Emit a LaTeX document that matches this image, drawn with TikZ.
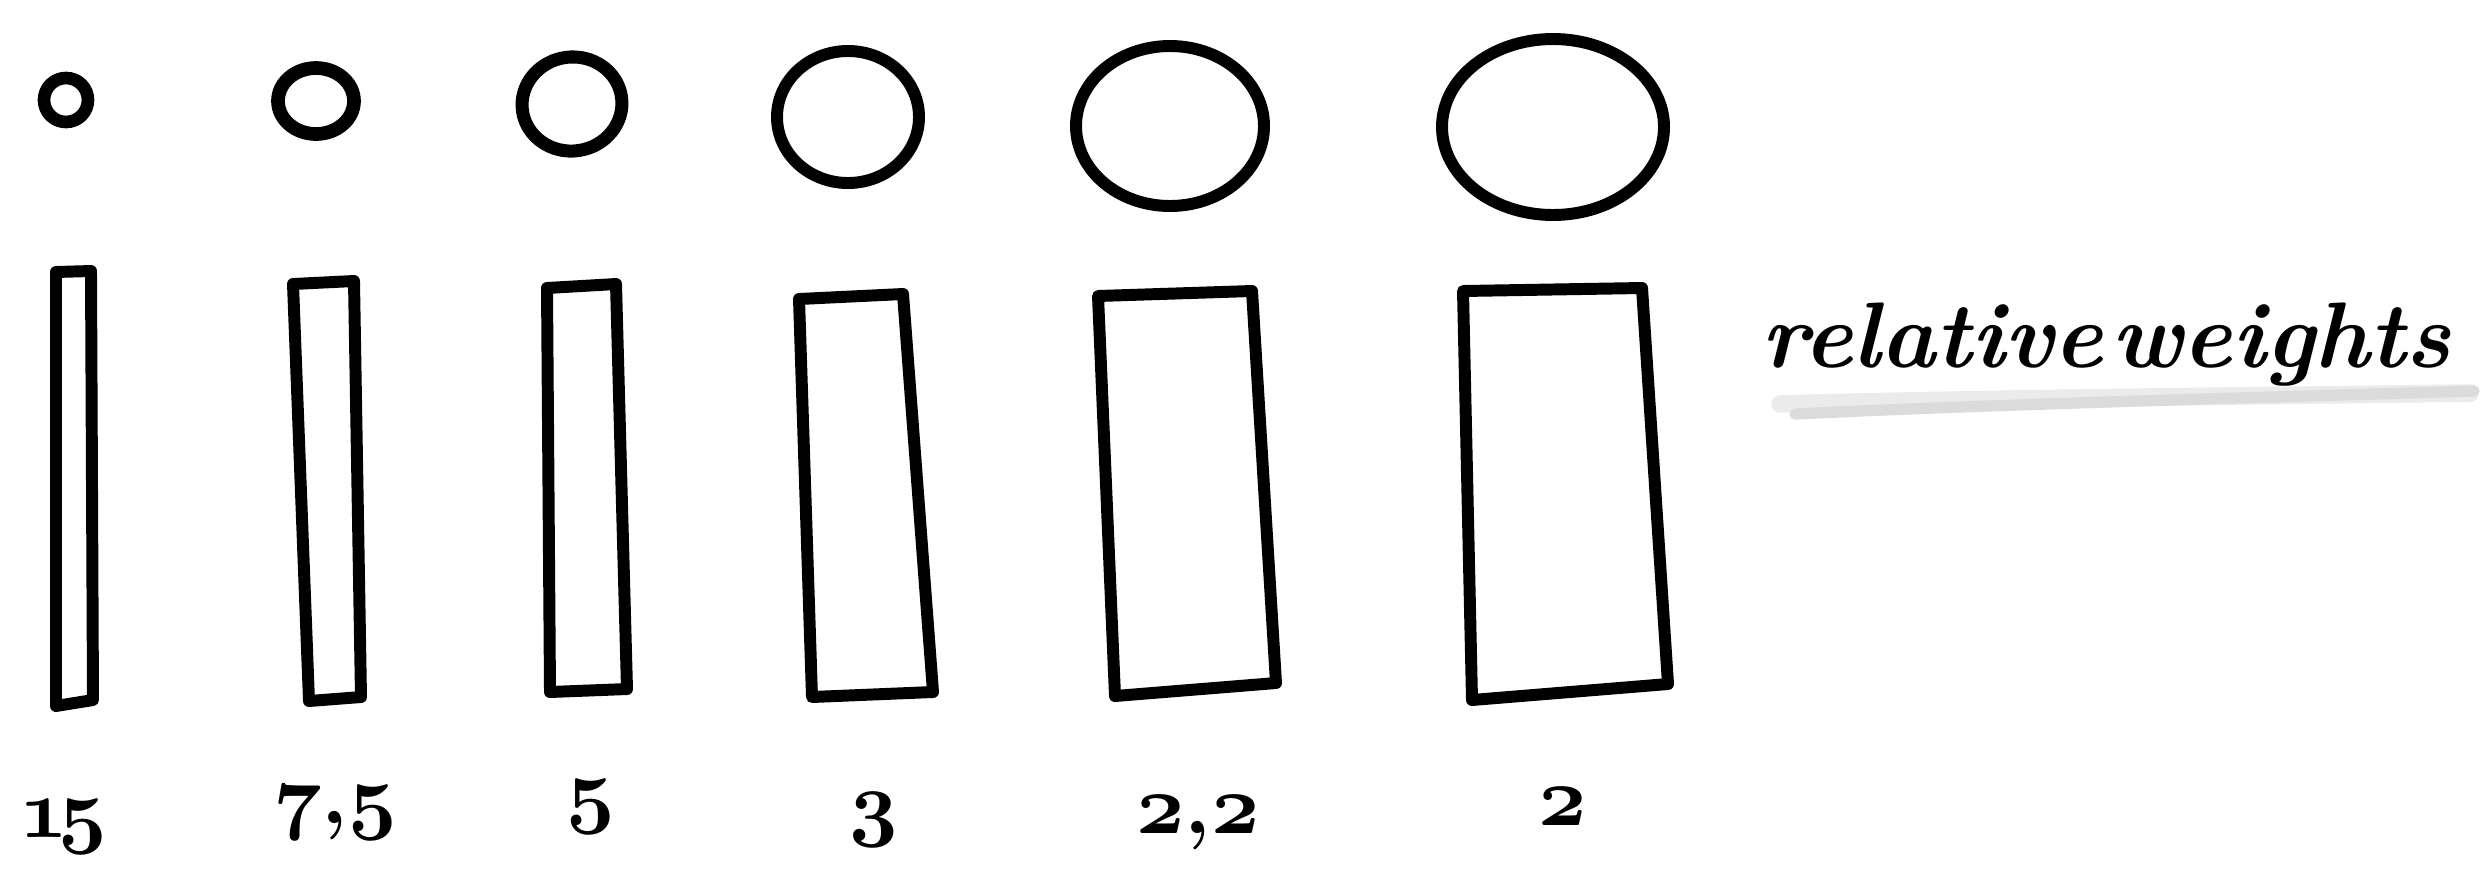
\documentclass[tikz,border=0pt]{standalone}
\usepackage{fix-cm}
\newcommand{\osn}[1]{{\fontsize{24}{28}\usefont{OML}{cmm}{b}{it}#1}}
\tikzset{
  ink/.style={draw=black, line width=3.4pt, line join=round, line cap=round},
  num/.style={inner sep=0pt, anchor=base, font=\fontsize{24}{28}\bfseries\selectfont},
  smear/.style={line cap=round, draw=black!14, line width=3.2pt},
}
\begin{document}
\begin{tikzpicture}[x=0.01cm, y=-0.01cm]
\useasboundingbox (0,0) rectangle (2488,875);
\fill[white] (0,0) rectangle (2488,875);

% circles
\draw[ink, line width=3.6pt] (66,100) ellipse [x radius=22, y radius=22];
\draw[ink, line width=3.9pt] (316,101) ellipse [x radius=38, y radius=33];
\draw[ink, line width=3.7pt, rotate around={8:(572,104)}] (572,104) ellipse [x radius=50, y radius=47];
\draw[ink] (848,117) ellipse [x radius=71, y radius=66];
\draw[ink] (1170,126) ellipse [x radius=94, y radius=80];
\draw[ink] (1553,127) ellipse [x radius=111, y radius=88];

% bars
\draw[ink] (56,272) -- (91,271) -- (93,700) -- (56,706) -- cycle;
\draw[ink] (293,284) -- (354,281) -- (361,697) -- (309,701) -- cycle;
\draw[ink] (547,288) -- (616,284) -- (627,689) -- (550,692) -- cycle;
\draw[ink] (799,299) -- (903,294) -- (933,692) -- (812,697) -- cycle;
\draw[ink] (1098,296) -- (1252,291) -- (1276,683) -- (1115,696) -- cycle;
\draw[ink] (1463,291) -- (1642,288) -- (1668,684) -- (1472,700) -- cycle;

% numbers
\node[num] (n1) at (63,837) {\osn{1}\kern-0.12em\osn{5}};
\node[num] (n2) at (335,823) {\osn{7},\osn{5}};
\node[num] (n3) at (591,817) {\osn{5}};
\node[num] (n4) at (874,830) {\osn{3}};
\node[num] (n5) at (1198,833) {\osn{2},\osn{2}};
\node[num] (n6) at (1563,825) {\osn{2}};

% label
\draw[smear, draw=black!8, line width=5pt] (1780,404) .. controls (2000,398) and (2250,396) .. (2470,393);
\draw[smear] (1795,414) .. controls (2000,404) and (2250,398) .. (2474,391);
\node[inner sep=0pt, anchor=base west, font=\fontsize{26.5}{30}\selectfont\bfseries\itshape] (lbl) at (1761,367) {relative\hspace{0.08em}weights};
\end{tikzpicture}
\end{document}
